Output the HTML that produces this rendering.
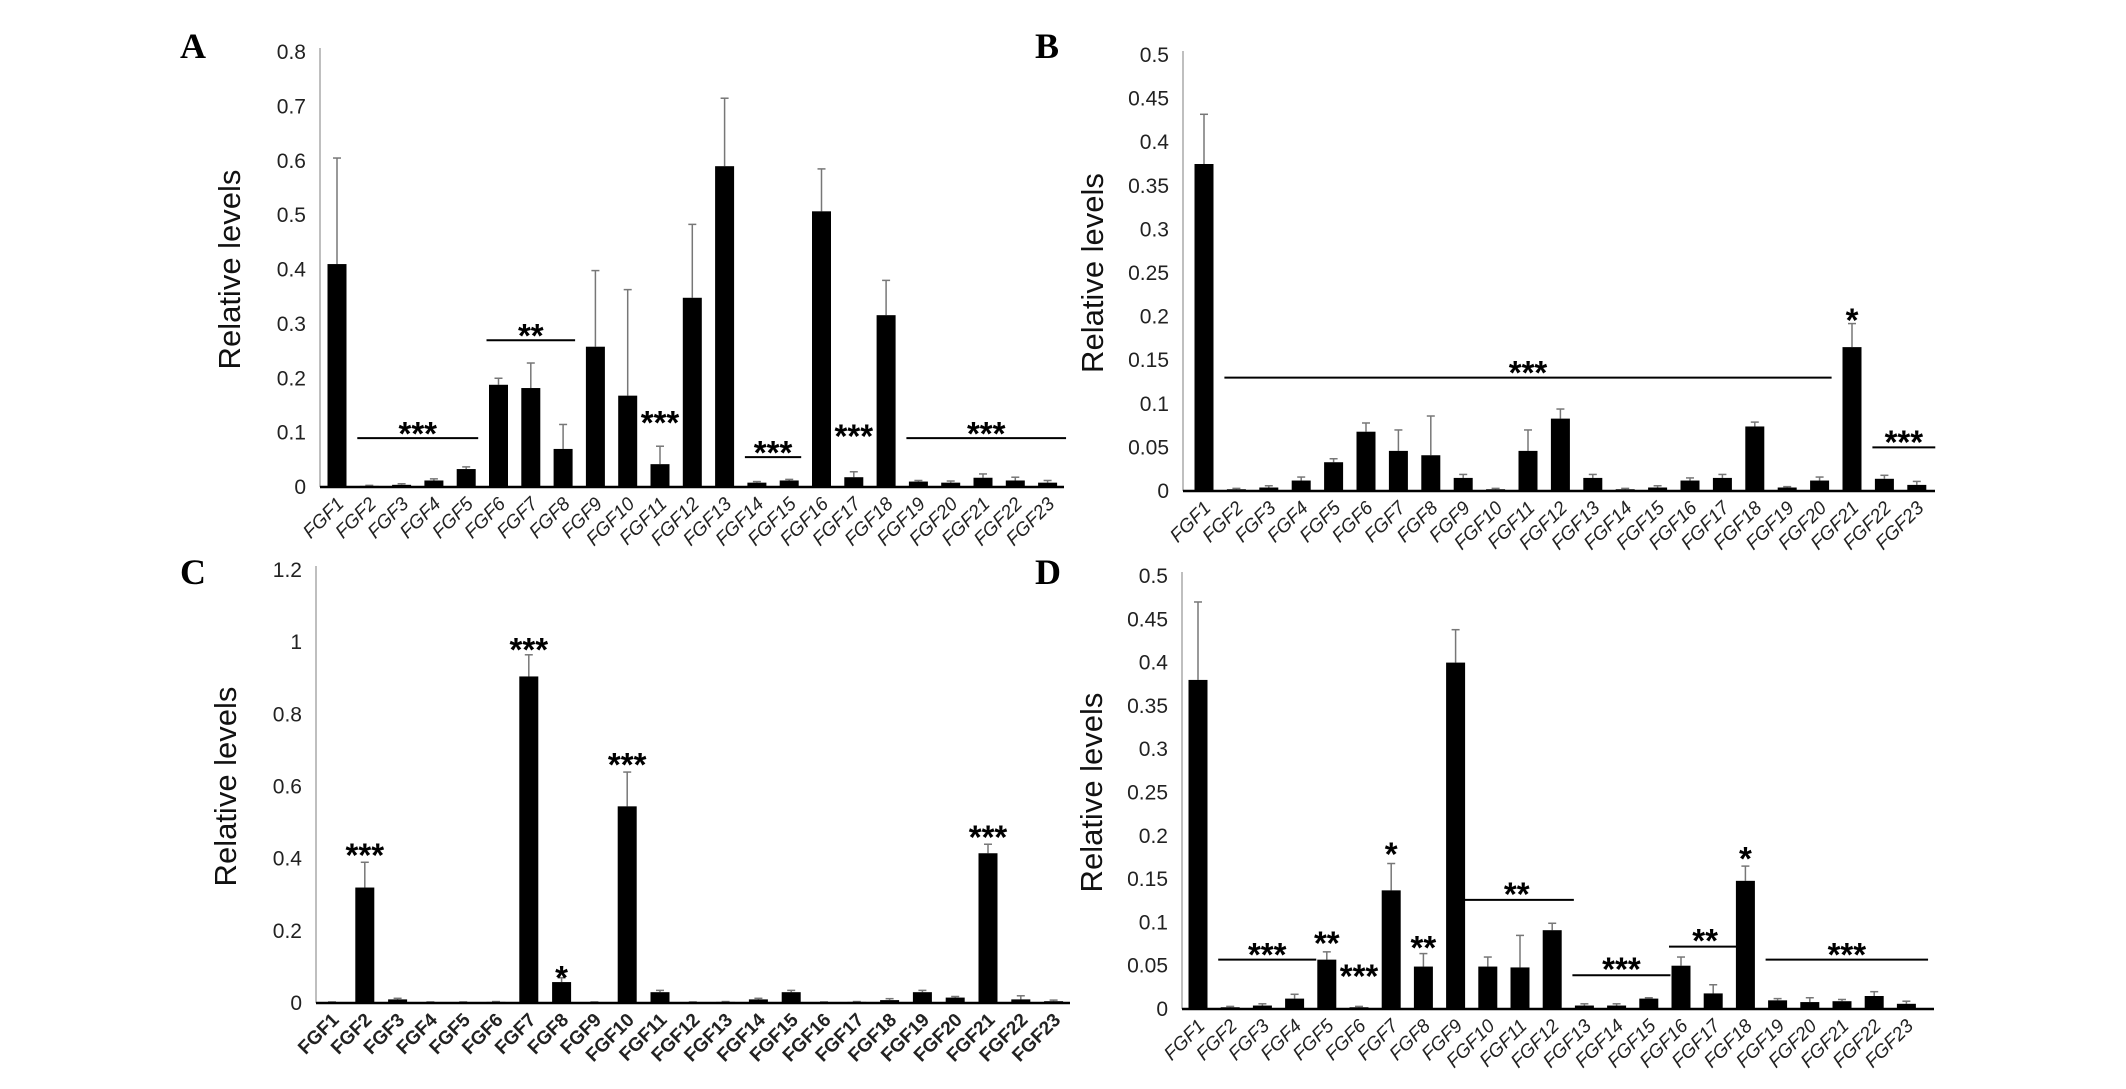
<!DOCTYPE html>
<html><head><meta charset="utf-8">
<style>
html,body{margin:0;padding:0;background:#fff;}
svg{display:block;}
</style></head>
<body>
<svg id="fig" width="2126" height="1089" viewBox="0 0 2126 1089" font-family="Liberation Sans, sans-serif"></svg>
<script>
const categories = ["FGF1","FGF2","FGF3","FGF4","FGF5","FGF6","FGF7","FGF8","FGF9","FGF10","FGF11","FGF12","FGF13","FGF14","FGF15","FGF16","FGF17","FGF18","FGF19","FGF20","FGF21","FGF22","FGF23"];

const valuesA = [0.41,0.002,0.004,0.012,0.033,0.188,0.182,0.07,0.258,0.168,0.042,0.348,0.59,0.008,0.012,0.507,0.018,0.316,0.01,0.008,0.017,0.012,0.008];
const errTopA = [0.605,0.003,0.006,0.015,0.037,0.2,0.228,0.115,0.398,0.363,0.075,0.483,0.715,0.01,0.014,0.585,0.028,0.38,0.012,0.011,0.024,0.018,0.012];
const ticksA = ["0","0.1","0.2","0.3","0.4","0.5","0.6","0.7","0.8"];

const valuesB = [0.375,0.002,0.004,0.012,0.033,0.068,0.046,0.041,0.015,0.002,0.046,0.083,0.015,0.002,0.004,0.012,0.015,0.074,0.004,0.012,0.165,0.014,0.007];
const errTopB = [0.432,0.003,0.006,0.016,0.037,0.078,0.07,0.086,0.019,0.003,0.07,0.094,0.019,0.003,0.006,0.015,0.019,0.079,0.005,0.016,0.192,0.018,0.011];
const ticksB = ["0","0.05","0.1","0.15","0.2","0.25","0.3","0.35","0.4","0.45","0.5"];

const valuesC = [0.002,0.32,0.01,0.002,0.002,0.003,0.905,0.058,0.002,0.545,0.03,0.002,0.003,0.01,0.03,0.002,0.003,0.008,0.03,0.015,0.415,0.01,0.005];
const errTopC = [0.003,0.39,0.013,0.003,0.003,0.004,0.965,0.07,0.003,0.64,0.035,0.003,0.004,0.013,0.035,0.003,0.004,0.012,0.035,0.018,0.44,0.02,0.008];
const ticksC = ["0","0.2","0.4","0.6","0.8","1","1.2"];

const valuesD = [0.38,0.002,0.004,0.012,0.057,0.002,0.137,0.049,0.4,0.049,0.048,0.091,0.004,0.004,0.012,0.05,0.018,0.148,0.01,0.008,0.009,0.015,0.006];
const errTopD = [0.47,0.003,0.006,0.017,0.066,0.003,0.168,0.064,0.438,0.06,0.085,0.099,0.006,0.006,0.013,0.06,0.028,0.165,0.012,0.013,0.011,0.02,0.009];
const ticksD = ["0","0.05","0.1","0.15","0.2","0.25","0.3","0.35","0.4","0.45","0.5"];

// significance annotations: [text, fromIndex, toIndex, lineValue(or null), textValue]
const sigA = [["***",1,4,0.09,0.105],["**",5,7,0.27,0.285],["***",10,10,null,0.125],["***",13,14,0.055,0.07],["***",16,16,null,0.1],["***",18,22.2,0.09,0.105]];
const sigB = [["***",1,19,0.13,0.14],["*",20,20,null,0.2],["***",21,22.2,0.05,0.06]];
const sigC = [["***",1,1,null,0.42],["***",6,6,null,0.99],["*",7,7,null,0.08],["***",9,9,null,0.67],["***",20,20,null,0.47]];
const sigD = [["***",1,3.3,0.057,0.067],["**",4,4,null,0.08],["***",5,5,null,0.042],["*",6,6,null,0.183],["**",7,7,null,0.075],["**",8.5,11.3,0.126,0.137],["***",12,14.3,0.039,0.05],["**",15,16.5,0.072,0.083],["*",17,17,null,0.178],["***",18,22.3,0.057,0.067]];

const NS = "http://www.w3.org/2000/svg";
const svg = document.getElementById("fig");
function el(tag, attrs, parent){const e=document.createElementNS(NS,tag);for(const k in attrs)e.setAttribute(k,attrs[k]);(parent||svg).appendChild(e);return e;}

function panel(cfg){
  const g = el("g",{});
  
  
  const maxV = parseFloat(cfg.ticks[cfg.ticks.length-1]);
  const y = v => cfg.y0 - (v/maxV)*(cfg.y0-cfg.yTop);
  const x = i => cfg.x0 + i*cfg.step;
  const lt = el("text",{x:cfg.lx,y:cfg.ly,"font-size":36,"font-weight":"bold","font-family":"Liberation Serif, serif"},g);
  lt.textContent = cfg.letter;
  
  
  const yax = el("line",{x1:cfg.ax,y1:cfg.yTop-4,x2:cfg.ax,y2:cfg.y0,stroke:"#aaa","stroke-width":1.5},g);
  
  
  cfg.ticks.forEach(t=>{
    const tx = el("text",{x:cfg.ax-14,y:y(parseFloat(t))+7,"font-size":21,"text-anchor":"end",fill:"#222"},g);
    tx.textContent = t;
    
    
  });
  const yt = el("text",{x:0,y:0,"font-size":31,"text-anchor":"middle",fill:"#111",transform:`translate(${cfg.ax-80},${(cfg.y0+cfg.yTop)/2}) rotate(-90)`},g);
  yt.textContent = "Relative levels";
  
  
  const bw = 19;
  cfg.values.forEach((v,i)=>{
    const cx = x(i);
    const e = el("line",{x1:cx,y1:y(cfg.err[i]),x2:cx,y2:y(v),stroke:"#777","stroke-width":1.5},g);
    
    
    const c = el("line",{x1:cx-4,y1:y(cfg.err[i]),x2:cx+4,y2:y(cfg.err[i]),stroke:"#777","stroke-width":1.5},g);
    
    
    const b = el("rect",{x:cx-bw/2,y:y(v),width:bw,height:Math.max(1,cfg.y0-y(v)),fill:"#000"},g);
    
    
    const lb = el("text",{x:0,y:0,"font-size":cfg.bold?19:19,"font-weight":cfg.bold?"bold":"normal","font-style":cfg.bold?"normal":"italic","text-anchor":"end",fill:"#222",transform:`translate(${cx+8},${cfg.y0+18}) rotate(-45)`},g);
    lb.textContent = categories[i];
    
    
  });
  const xax = el("line",{x1:cfg.ax,y1:cfg.y0,x2:cfg.axEnd,y2:cfg.y0,stroke:"#000","stroke-width":2.5},g);
  
  
  cfg.sig.forEach(s=>{
    const [txt,a,b2,lv,tv]=s;
    if(lv!==null){
      const ln = el("line",{x1:x(a)-12,y1:y(lv),x2:x(b2)+12,y2:y(lv),stroke:"#000","stroke-width":2},g);
      
      
    }
    const st = el("text",{x:(x(a)+x(b2))/2,y:y(tv)+15,"font-size":33,"font-weight":"bold","text-anchor":"middle",fill:"#000"},g);
    st.textContent = txt;
    
    
  });
}

panel({letter:"A",lx:180,ly:58,ax:320,axEnd:1064,y0:487,yTop:52,x0:337,step:32.3,values:valuesA,err:errTopA,ticks:ticksA,sig:sigA,bold:false});
panel({letter:"B",lx:1035,ly:58,ax:1183,axEnd:1935,y0:491,yTop:55,x0:1204,step:32.4,values:valuesB,err:errTopB,ticks:ticksB,sig:sigB,bold:false});
panel({letter:"C",lx:180,ly:584,ax:316,axEnd:1070,y0:1003,yTop:570,x0:332,step:32.8,values:valuesC,err:errTopC,ticks:ticksC,sig:sigC,bold:true});
panel({letter:"D",lx:1035,ly:584,ax:1182,axEnd:1934,y0:1009,yTop:576,x0:1198,step:32.2,values:valuesD,err:errTopD,ticks:ticksD,sig:sigD,bold:false});
</script>
</body></html>
